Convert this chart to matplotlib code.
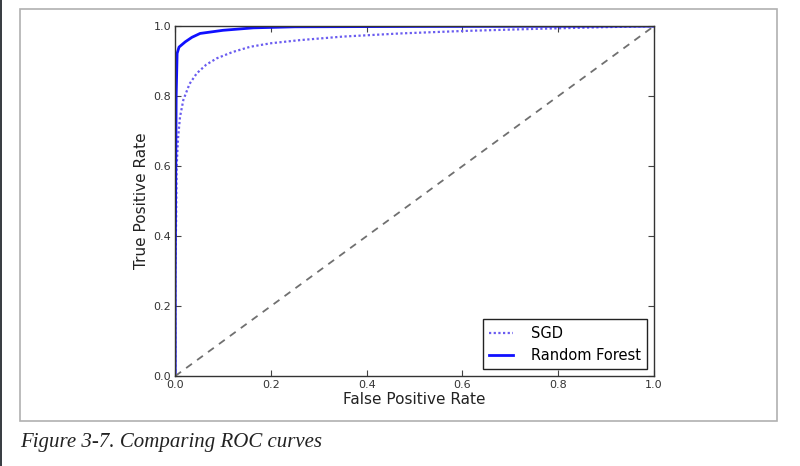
import matplotlib
matplotlib.use("Agg")
import matplotlib.pyplot as plt
from matplotlib.patches import Rectangle

# ROC points
fpr_forest = [0.0, 0.0, 0.002, 0.004, 0.008, 0.021, 0.035, 0.052, 0.10, 0.163, 0.25, 0.5, 1.0]
tpr_forest = [0.0, 0.284, 0.80, 0.922, 0.94, 0.955, 0.968, 0.979, 0.988, 0.995, 0.998, 0.999, 1.0]

fpr_sgd = [0.0, 0.0, 0.002, 0.003, 0.006, 0.010, 0.017, 0.030, 0.045, 0.065, 0.087, 0.12,
           0.157, 0.20, 0.261, 0.35, 0.47, 0.6, 0.75, 0.9, 1.0]
tpr_sgd = [0.0, 0.30, 0.45, 0.598, 0.68, 0.74, 0.789, 0.835, 0.865, 0.89, 0.908, 0.926,
           0.941, 0.951, 0.96, 0.97, 0.979, 0.986, 0.992, 0.997, 1.0]

diag = [0.0, 1.0]
ticks = [0.0, 0.2, 0.4, 0.6, 0.8, 1.0]

fig = plt.figure(figsize=(8, 4.66), dpi=100)
fig.patch.set_facecolor("white")

# book page frame and left edge strip
fig.patches.append(Rectangle((0.025, 0.0966), 0.946, 0.8845, transform=fig.transFigure,
                             fill=False, edgecolor="#b0b0b0", linewidth=1.2))
fig.patches.append(Rectangle((0.0, 0.0), 0.003, 1.0, transform=fig.transFigure,
                             facecolor="#3a3f44", edgecolor="none"))

ax = fig.add_axes([0.219, 0.193, 0.5985, 0.751])
ax.plot(fpr_sgd, tpr_sgd, color="#6a5cf0", linestyle=":", linewidth=1.6,
        dashes=(1, 1.1), label="SGD")
ax.plot(fpr_forest, tpr_forest, color="#1010ff", linewidth=2, label="Random Forest")
ax.plot(diag, diag, color="#707070", linestyle="--", linewidth=1.3, dashes=(4, 3.5))

ax.set_xlim(0, 1)
ax.set_ylim(0, 1)
ax.set_xticks(ticks)
ax.set_yticks(ticks)
ax.tick_params(direction="in", top=True, right=True, length=4, labelsize=8,
               labelcolor="#333333", color="#444444", pad=3)
for s in ax.spines.values():
    s.set_color("#333333")
    s.set_linewidth(1.0)

ax.set_xlabel("False Positive Rate", fontsize=11, color="#222222", labelpad=1)
ax.set_ylabel("True Positive Rate", fontsize=11, color="#222222", labelpad=3)

leg = ax.legend(loc="lower right", fontsize=10.5, fancybox=False, framealpha=1,
                edgecolor="#222222", borderpad=0.45, borderaxespad=0.45,
                handlelength=1.6, handletextpad=1.25)
leg.get_frame().set_linewidth(1.0)

fig.text(0.025, 0.04, "Figure 3-7. Comparing ROC curves", fontsize=15, style="italic",
         family=["Liberation Serif", "DejaVu Serif"], color="#222222")

fig.savefig("out.png", dpi=100)
